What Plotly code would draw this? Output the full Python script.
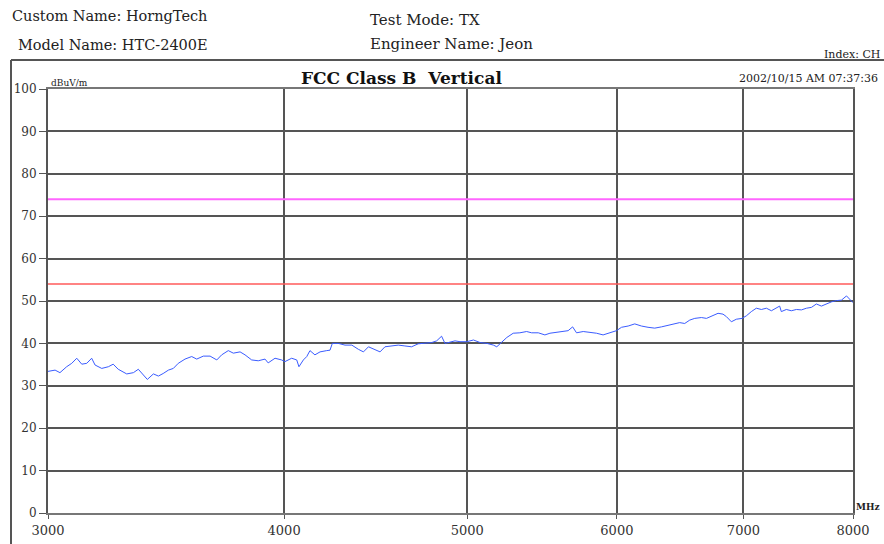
import plotly.graph_objects as go

# ---- data ----
freq_mhz = [3000, 3026, 3044, 3069, 3088, 3107, 3126, 3145, 3164, 3177, 3203, 3229, 3248, 3268,
            3302, 3329, 3349, 3369, 3386, 3411, 3432, 3452, 3474, 3495, 3516, 3545, 3574, 3596,
            3625, 3655, 3685, 3707, 3737, 3760, 3791, 3814, 3834, 3845, 3876, 3908, 3923, 3956,
            3988, 4004, 4037, 4062, 4073, 4095, 4112, 4128, 4153, 4179, 4213, 4230, 4242, 4273,
            4308, 4344, 4379, 4406, 4433, 4469, 4496, 4523, 4560, 4597, 4634, 4672, 4710, 4749,
            4788, 4817, 4846, 4866, 4896, 4926, 4956, 4997, 5038, 5079, 5121, 5162, 5183, 5215,
            5247, 5288, 5331, 5375, 5408, 5452, 5496, 5530, 5575, 5620, 5654, 5685, 5712, 5759,
            5806, 5853, 5900, 5948, 5997, 6034, 6083, 6132, 6182, 6232, 6283, 6335, 6386, 6438,
            6477, 6517, 6557, 6597, 6651, 6692, 6733, 6787, 6828, 6857, 6898, 6940, 6988, 7025,
            7068, 7111, 7155, 7199, 7243, 7287, 7316, 7331, 7376, 7421, 7467, 7513, 7559, 7605,
            7651, 7698, 7745, 7793, 7840, 7888, 7937, 7969, 8000]
level_dbuv = [33.4, 33.7, 33.1, 34.5, 35.3, 36.5, 35.1, 35.3, 36.5, 34.9, 34.1, 34.5, 35.1, 33.9,
              32.8, 33.1, 33.9, 32.5, 31.5, 32.8, 32.3, 32.9, 33.7, 34.1, 35.3, 36.3, 36.9, 36.3,
              37.0, 37.0, 36.1, 37.3, 38.3, 37.7, 38.0, 37.3, 36.5, 36.1, 35.9, 36.3, 35.4, 36.5,
              36.1, 35.7, 36.5, 36.1, 34.5, 36.1, 36.9, 38.3, 37.3, 38.0, 38.3, 38.4, 40.0, 40.0,
              39.6, 39.6, 38.6, 38.0, 39.2, 38.6, 38.0, 39.2, 39.4, 39.6, 39.4, 39.2, 39.9, 40.0,
              40.2, 40.6, 41.7, 40.0, 40.3, 40.6, 40.4, 40.4, 40.8, 40.2, 40.0, 39.6, 39.2, 40.4,
              41.4, 42.4, 42.5, 42.8, 42.5, 42.5, 42.0, 42.4, 42.6, 42.8, 43.0, 43.9, 42.5, 42.8,
              42.6, 42.4, 42.0, 42.5, 43.0, 43.8, 44.1, 44.6, 44.1, 43.8, 43.6, 43.9, 44.3, 44.6,
              44.9, 44.7, 45.5, 45.9, 46.1, 45.9, 46.5, 47.1, 46.9, 46.3, 45.1, 45.7, 45.9, 46.5,
              47.5, 48.3, 48.0, 48.3, 47.7, 48.3, 48.8, 47.5, 48.0, 47.7, 48.0, 47.9, 48.3, 48.5,
              49.3, 48.8, 49.3, 49.8, 50.1, 50.2, 51.2, 50.4, 49.6]
limit_qp = 54
limit_peak = 74
x_ticks = [3000, 4000, 5000, 6000, 7000, 8000]
y_ticks = [0, 10, 20, 30, 40, 50, 60, 70, 80, 90, 100]

header_left = ["Custom Name: HorngTech", "Model Name: HTC-2400E"]
header_mid = ["Test Mode: TX", "Engineer Name: Jeon"]
index_text = "Index: CH"
title_text = "FCC Class B  Vertical"
stamp_text = "2002/10/15 AM 07:37:36"
y_unit = "dBuV/m"
x_unit = "MHz"

# ---- geometry helpers (pixel -> paper) ----
L, R, T, B = 48, 853, 89, 513
W, H = 884, 544
def px(x):
    return (x - L) / (R - L)
def py(y):
    return (B - y) / (B - T)

SERIF = "DejaVu Serif"
fig = go.Figure()

fig.add_trace(go.Scatter(x=[x_ticks[0], x_ticks[-1]], y=[limit_peak, limit_peak], mode="lines",
                         line=dict(color="#ff66ff", width=2), hoverinfo="skip", showlegend=False))
fig.add_trace(go.Scatter(x=[x_ticks[0], x_ticks[-1]], y=[limit_qp, limit_qp], mode="lines",
                         line=dict(color="#ff5a5a", width=1.5), hoverinfo="skip", showlegend=False))
fig.add_trace(go.Scatter(x=freq_mhz, y=level_dbuv, mode="lines",
                         line=dict(color="#3a5cff", width=1), showlegend=False))

annots = []
def txt(t, x, y, size, xanchor="left", bold=False, color="#222"):
    annots.append(dict(text=("<b>%s</b>" % t) if bold else t, x=px(x), y=py(y), xref="paper", yref="paper",
                       xanchor=xanchor, yanchor="middle", showarrow=False,
                       font=dict(family=SERIF, size=size, color=color)))

txt(header_left[0], 10, 16, 14.5)
txt(header_left[1], 16, 45, 14.5)
txt(header_mid[0], 368, 20, 15)
txt(header_mid[1], 368, 44, 15)
txt(index_text, 882, 55, 11, xanchor="right")
txt(title_text, 401, 78, 17, xanchor="center", bold=True, color="#111")
txt(stamp_text, 880, 79, 11, xanchor="right")
txt(y_unit, 49, 83, 9)
txt(x_unit, 854, 507, 9, bold=True)

shapes = [
    dict(type="line", xref="paper", yref="paper", x0=px(11), x1=px(900), y0=py(60), y1=py(60),
         line=dict(color="#555", width=2)),
    dict(type="line", xref="paper", yref="paper", x0=px(11), x1=px(11), y0=py(60), y1=py(560),
         line=dict(color="#555", width=2)),
]

fig.update_layout(
    width=W, height=H,
    margin=dict(l=L, r=W - R, t=T, b=H - B, autoexpand=False),
    paper_bgcolor="white", plot_bgcolor="white",
    annotations=annots, shapes=shapes,
    xaxis=dict(type="log", range=[3.4771213, 3.90309], tickvals=x_ticks,
               ticktext=[str(v) for v in x_ticks], showgrid=True, gridcolor="#555", gridwidth=1.5,
               zeroline=False, showline=True, linecolor="#777", linewidth=2, mirror=True,
               ticks="outside", ticklen=4, tickcolor="#555",
               tickfont=dict(family=SERIF, size=13, color="#333")),
    yaxis=dict(range=[0, 100], tickvals=y_ticks, showgrid=True, gridcolor="#555", gridwidth=1.5,
               zeroline=False, showline=True, linecolor="#555", linewidth=2, mirror=True,
               ticks="outside", ticklen=7, tickcolor="#555",
               tickfont=dict(family=SERIF, size=12, color="#333")),
)

fig.write_html("out.html", config={"displayModeBar": False},
               post_script="document.body.style.margin='0';document.body.style.overflow='hidden';")
